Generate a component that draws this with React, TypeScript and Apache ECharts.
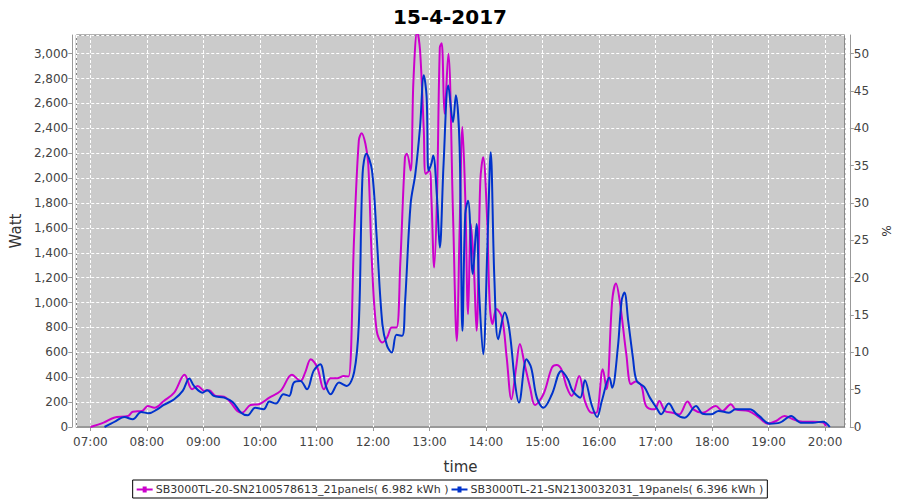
import React, { useEffect, useRef } from "react";
import * as echarts from "echarts";

const TITLE = "15-4-2017";
const SERIES_NAMES = [
  "SB3000TL-20-SN2100578613_21panels( 6.982 kWh )",
  "SB3000TL-21-SN2130032031_19panels( 6.396 kWh )",
];

const magentaTimes = [
  "07:00", "07:14", "07:25", "07:40", "07:45", "07:55", "08:01", "08:08", "08:18", "08:29",
  "08:40", "08:48", "08:54", "09:01", "09:06", "09:13", "09:22", "09:29", "09:36", "09:41",
  "09:50", "09:59", "10:10", "10:22", "10:34", "10:43", "10:48", "10:54", "11:01", "11:08",
  "11:15", "11:22", "11:29", "11:34", "11:40", "11:45", "11:48", "11:52", "11:55", "11:59",
  "12:04", "12:10", "12:15", "12:20", "12:25", "12:29", "12:34", "12:36", "12:40", "12:43",
  "12:47", "12:50", "12:54", "12:56", "13:00", "13:02", "13:05", "13:08", "13:11", "13:13",
  "13:16", "13:20", "13:25", "13:29", "13:32", "13:35", "13:38", "13:41", "13:44", "13:47",
  "13:50", "13:54", "13:57", "14:01", "14:04", "14:07", "14:11", "14:17", "14:22", "14:27",
  "14:32", "14:36", "14:41", "14:47", "14:52", "15:01", "15:10", "15:15", "15:20", "15:26",
  "15:31", "15:39", "15:45", "15:52", "15:57", "16:04", "16:08", "16:14", "16:18", "16:22",
  "16:29", "16:34", "16:39", "16:45", "16:50", "16:59", "17:04", "17:10", "17:18", "17:25",
  "17:34", "17:40", "17:50", "18:04", "18:11", "18:20", "18:25", "18:39", "18:50", "18:59",
  "19:08", "19:17", "19:26", "19:36", "19:47", "19:58", "20:01",
];
const magentaValues = [
  0, 35, 75, 89, 123, 129, 169, 155, 209, 276,
  419, 303, 330, 290, 295, 250, 244, 196, 129, 115,
  177, 183, 236, 290, 419, 370, 437, 545, 477, 303,
  392, 392, 410, 405, 1524, 2302, 2361, 2276, 2115, 1310,
  773, 679, 719, 799, 799, 1310, 2168, 2195, 2061, 2785,
  3180, 3027, 2383, 2034, 2061, 1846, 1282, 1846, 3050, 3083,
  2517, 3000, 1712, 692, 1578, 2410, 1846, 907, 1632, 1310,
  773, 1980, 2168, 1712, 988, 827, 948, 880, 558, 223,
  477, 666, 505, 310, 177, 263, 477, 499, 464, 316,
  250, 410, 209, 115, 115, 464, 303, 1014, 1154, 1014,
  585, 344, 365, 330, 169, 142, 209, 129, 115, 100,
  204, 142, 115, 169, 129, 183, 142, 129, 75, 27,
  48, 89, 62, 43, 43, 35, 5,
];

const blueTimes = [
  "07:15", "07:27", "07:36", "07:45", "07:54", "08:02", "08:11", "08:18", "08:29", "08:38",
  "08:45", "08:50", "08:59", "09:04", "09:11", "09:22", "09:31", "09:40", "09:47", "09:55",
  "10:04", "10:10", "10:17", "10:25", "10:31", "10:36", "10:43", "10:50", "10:57", "11:04",
  "11:10", "11:15", "11:24", "11:32", "11:40", "11:45", "11:49", "11:53", "11:59", "12:04",
  "12:10", "12:15", "12:20", "12:25", "12:31", "12:34", "12:40", "12:45", "12:50", "12:54",
  "12:57", "12:59", "13:02", "13:04", "13:08", "13:11", "13:15", "13:20", "13:25", "13:28",
  "13:32", "13:35", "13:38", "13:41", "13:46", "13:50", "13:53", "13:57", "14:02", "14:05",
  "14:09", "14:13", "14:20", "14:25", "14:31", "14:35", "14:43", "14:48", "14:54", "15:01",
  "15:10", "15:20", "15:27", "15:32", "15:40", "15:45", "15:52", "15:58", "16:03", "16:11",
  "16:14", "16:20", "16:24", "16:27", "16:31", "16:36", "16:40", "16:48", "16:54", "17:01",
  "17:06", "17:14", "17:22", "17:31", "17:43", "17:50", "17:59", "18:07", "18:18", "18:25",
  "18:40", "18:50", "19:01", "19:12", "19:24", "19:34", "19:47", "19:58", "20:05",
];
const blueValues = [
  0, 48, 80, 62, 121, 110, 142, 177, 223, 290,
  389, 330, 276, 295, 250, 236, 201, 115, 94, 155,
  142, 204, 188, 263, 250, 357, 370, 303, 451, 505,
  330, 263, 357, 330, 440, 827, 2034, 2195, 2061, 1524,
  827, 652, 598, 741, 733, 988, 1793, 2034, 2410, 2826,
  2651, 2061, 2115, 2182, 1846, 1443, 2115, 2745, 2450, 2665,
  2249, 773, 1712, 1819, 1229, 1632, 1041, 585, 1578, 2208,
  1175, 706, 920, 773, 344, 196, 545, 477, 236, 155,
  263, 451, 384, 290, 236, 376, 183, 80, 209, 397,
  316, 638, 1014, 1081, 853, 558, 370, 322, 236, 155,
  102, 188, 102, 75, 169, 107, 102, 129, 115, 142,
  142, 89, 27, 35, 89, 35, 35, 43, 0,
];

const X_MIN = "06:45";
const X_MAX = "20:21";
const LEFT_MAX = 3150;
const RIGHT_MAX = 52.5;

const ts = (hm: string) => {
  const [h, m] = hm.split(":").map(Number);
  return new Date(2017, 3, 15, h, m).getTime();
};

const FONT = "DejaVu Sans";

export default function App() {
  const ref = useRef<HTMLDivElement>(null);
  useEffect(() => {
    if (!ref.current) return;
    const chart = echarts.init(ref.current, null, { renderer: "svg" });
    const mk = (times: string[], vals: number[]) => times.map((t, i) => [ts(t), vals[i]]);
    chart.setOption({
      animation: false,
      backgroundColor: "#ffffff",
      title: {
        text: TITLE,
        left: "center",
        top: 2,
        textStyle: { fontFamily: FONT, fontSize: 20, fontWeight: "bold", color: "#000" },
      },
      legend: {
        bottom: 2,
        left: "center",
        borderColor: "#000",
        borderWidth: 1,
        padding: [4, 4, 3, 4],
        itemGap: 3,
        itemWidth: 16,
        itemHeight: 7,
        icon: "path://M0,3L16,3L16,5L0,5Z M6,1L10,1L10,7L6,7Z",
        textStyle: { fontFamily: FONT, fontSize: 11, color: "#333", padding: [0, 0, 0, -2] },
        data: SERIES_NAMES,
      },
      grid: {
        left: 75,
        right: 54,
        top: 35,
        bottom: 73,
        show: true,
        backgroundColor: "#cbcbcb",
        borderColor: "#666",
        borderWidth: 1,
      },
      xAxis: {
        type: "time",
        min: ts(X_MIN),
        max: ts(X_MAX),
        minInterval: 3600 * 1000,
        maxInterval: 3600 * 1000,
        offset: 4,
        name: "time",
        nameLocation: "middle",
        nameGap: 28,
        nameTextStyle: { fontFamily: FONT, fontSize: 15, color: "#333" },
        axisLine: { show: true, lineStyle: { color: "#999" } },
        axisTick: { show: true, length: 4, lineStyle: { color: "#999" } },
        axisLabel: {
          formatter: "{HH}:{mm}",
          showMinLabel: false,
          showMaxLabel: false,
          fontFamily: FONT,
          fontSize: 12,
          color: "#444",
          margin: 5,
          hideOverlap: false,
        },
        splitLine: { show: true, lineStyle: { color: "#fff", type: [3, 2], width: 1 } },
      },
      yAxis: [
        {
          type: "value",
          min: 0,
          max: LEFT_MAX,
          interval: 200,
          offset: 4,
          name: "Watt",
          nameLocation: "middle",
          nameGap: 46,
          nameTextStyle: { fontFamily: FONT, fontSize: 15, color: "#333" },
          axisLine: { show: true, lineStyle: { color: "#999" } },
          axisTick: { show: true, length: 4, lineStyle: { color: "#999" } },
          axisLabel: {
            formatter: (v: number) => v.toLocaleString("en-US"),
            showMaxLabel: false,
            fontFamily: FONT,
            fontSize: 12,
            color: "#444",
            margin: 4,
          },
          splitLine: { show: true, lineStyle: { color: "#fff", type: [3, 2], width: 1 } },
        },
        {
          type: "value",
          position: "right",
          min: 0,
          max: RIGHT_MAX,
          interval: 5,
          offset: 5,
          name: "%",
          nameLocation: "middle",
          nameGap: 28,
          nameRotate: -90,
          nameTextStyle: { fontFamily: FONT, fontSize: 12, color: "#333" },
          axisLine: { show: true, lineStyle: { color: "#999" } },
          axisTick: { show: true, length: 4, lineStyle: { color: "#999" } },
          axisLabel: {
            showMaxLabel: false,
            fontFamily: FONT,
            fontSize: 12,
            color: "#444",
            margin: 4,
          },
          splitLine: { show: false },
        },
      ],
      series: [
        {
          name: SERIES_NAMES[0],
          type: "line",
          yAxisIndex: 0,
          smooth: 0.35,
          showSymbol: false,
          color: "#cc00cc",
          lineStyle: { width: 2, color: "#cc00cc" },
          data: mk(magentaTimes, magentaValues),
        },
        {
          name: SERIES_NAMES[1],
          type: "line",
          yAxisIndex: 0,
          smooth: 0.35,
          showSymbol: false,
          color: "#0033cc",
          lineStyle: { width: 2, color: "#0033cc" },
          data: mk(blueTimes, blueValues),
        },
      ],
    });
    return () => chart.dispose();
  }, []);
  return (
    <div
      ref={ref}
      style={{ position: "fixed", left: 0, top: 0, width: 900, height: 500 }}
    />
  );
}
